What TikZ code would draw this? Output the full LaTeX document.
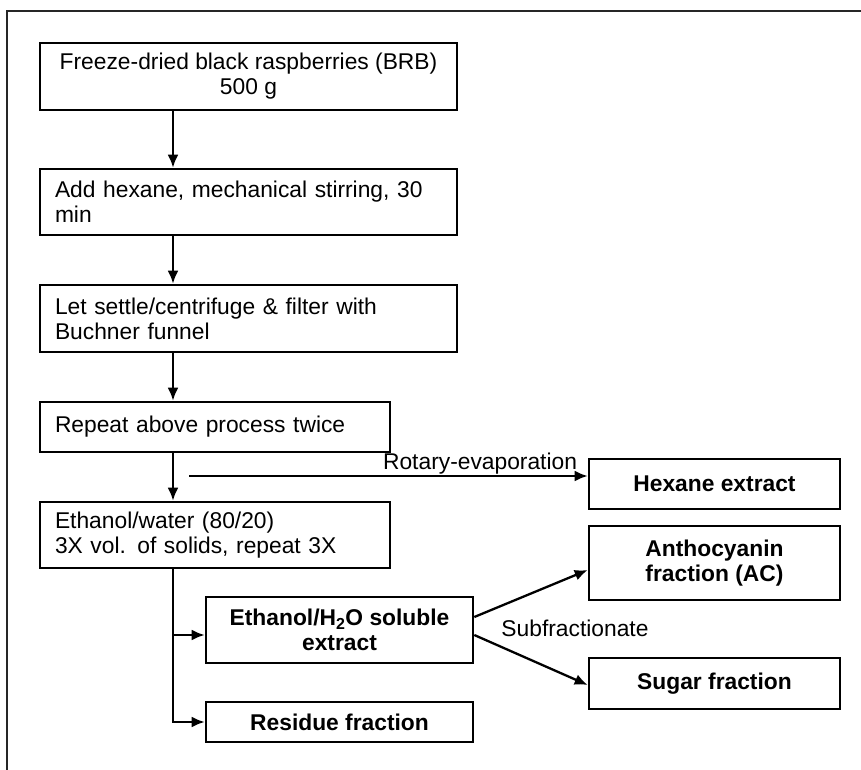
\documentclass[tikz,border=0pt]{standalone}
\usepackage{fontspec}
\setmainfont{Liberation Sans}
\usepackage{tikz}
\usetikzlibrary{arrows.meta,positioning,calc}

\tikzset{
  stepbox/.style={draw, line width=2.6pt, text width=#1, inner xsep=0pt,
    minimum height=66pt, align=left, font=\fontsize{22.8}{25}\selectfont},
  stepbox/.default=387pt,
  outbox/.style={draw, line width=2.6pt, minimum width=#1, align=center,
    font=\fontsize{22.8}{25}\selectfont\bfseries},
  arr/.style={line width=2.3pt, -{Latex[length=13pt,width=11pt]}},
  lbl/.style={font=\fontsize{22.8}{25}\selectfont, inner sep=1pt}
}

\begin{document}
\begin{tikzpicture}[x=1pt,y=-1pt]
  \useasboundingbox (0,0) rectangle (861,770);

  % frame
  \draw[line width=1.3pt, black!85] (7,770) -- (7,11) -- (861,11);

  % main steps
  \node[draw, line width=2.6pt, minimum width=417pt, minimum height=67pt,
        align=center, font=\fontsize{22.8}{25}\selectfont] (brb) at (248.5,76.5)
        {Freeze-dried black raspberries (BRB)\\500 g};
  \node[stepbox, minimum width=417pt] (hex) at (248.5,202)
        {Add hexane, mechanical stirring, 30\\min};
  \node[stepbox, minimum width=417pt, minimum height=67pt] (settle) at (248.5,318.5)
        {Let settle/centrifuge \& filter with\\Buchner funnel};
  \node[stepbox=320pt, minimum width=350pt, minimum height=50pt] (rep) at (215,427)
        {Repeat above process twice};
  \node[stepbox=320pt, minimum width=350pt] (etoh) at (215,535)
        {Ethanol/water (80/20)\\3X vol. of solids, repeat 3X};

  % products
  \node[outbox=251pt, minimum height=50pt] (hexext) at (714.5,484) {Hexane extract};
  \node[outbox=267pt, minimum height=66pt] (sol) at (339.5,630)
        {Ethanol/H\textsubscript{2}O soluble\\extract};
  \node[outbox=267pt, minimum height=40pt] (res) at (339.5,722) {Residue fraction};
  \node[outbox=251pt, minimum height=74pt] (ac) at (714.5,563)
        {Anthocyanin\\fraction (AC)};
  \node[outbox=251pt, minimum height=51pt] (sug) at (714.5,683.5) {Sugar fraction};

  % arrows
  \coordinate (stem) at (173,0);
  \draw[arr] (brb.south -| stem) -- (hex.north -| stem);
  \draw[arr] (hex.south -| stem) -- (settle.north -| stem);
  \draw[arr] (settle.south -| stem) -- (rep.north -| stem);
  \draw[arr] (rep.south -| stem) -- (etoh.north -| stem);

  \coordinate (rot) at (189,476);
  \draw[arr] (rot) -- (hexext.west |- rot)
    node[lbl, pos=0.73, above] {Rotary-evaporation};

  \draw[arr] (etoh.south -| stem) |- (res.west);
  \draw[arr] ($(stem |- sol.west)+(0,5)$) -- ($(sol.west)+(0,5)$);

  \draw[arr] ($(sol.east)+(0,-13)$) -- ($(ac.west)+(0,7)$);
  \draw[arr] ($(sol.east)+(0,5)$) -- ($(sug.west)+(0,1.5)$);
  \node[lbl] (subf) at (575,628) {Subfractionate};
\end{tikzpicture}
\end{document}
